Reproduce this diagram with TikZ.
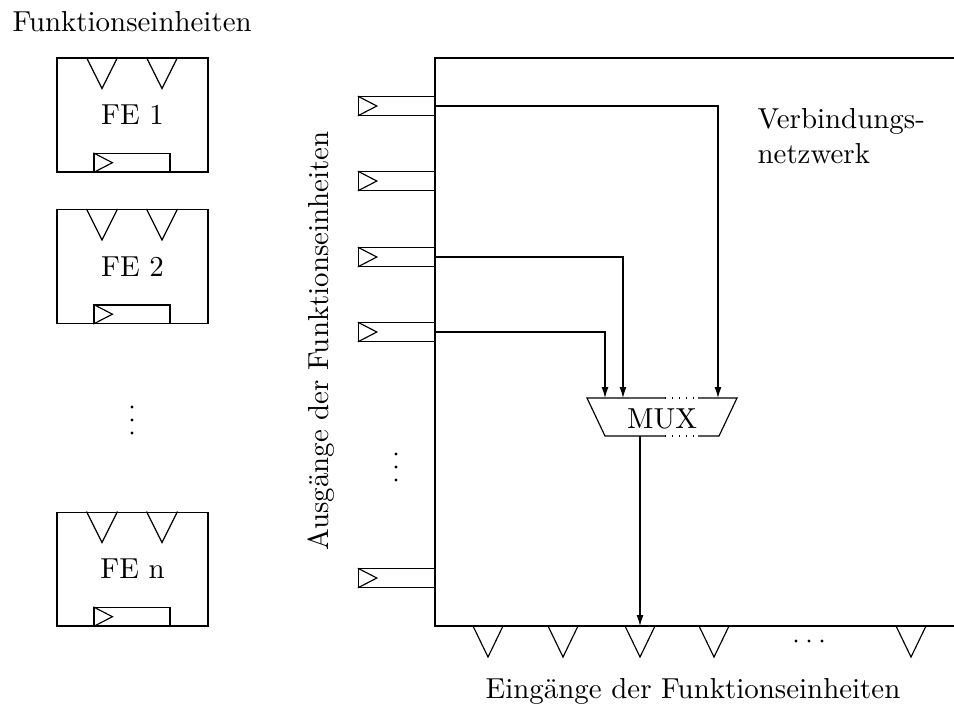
\documentclass[tikz,border=0pt]{standalone}
\usetikzlibrary{arrows.meta,calc}
\begin{document}
\begin{tikzpicture}[x=0.346pt,y=-0.346pt,
  unitbox/.style={draw, rectangle, inner sep=0pt, minimum width=52.25pt, minimum height=39.4pt},
  regbox/.style={draw, rectangle, inner sep=0pt, minimum width=26.3pt, minimum height=6.4pt},
  lbl/.style={inner sep=0pt},
  conn/.style={-{Latex[length=3.8pt,width=2.4pt]}},
  dotmark/.style={fill=black},
]
\useasboundingbox (0,0) rectangle (954,706);

% register symbol: box with a clock triangle at its left side
\newcommand\regmark[1]{%
  \draw (#1.north west) -- ($(#1.west)+(19,0)$) -- (#1.south west);}

% functional unit: two input triangles on top, output register at the bottom
\newcommand\feunit[3]{%
  \node[unitbox] (#1) at (132.5,#2) {#3};
  \draw ($(#1.north)+(-46,0)$) -- ++(15.5,31) -- ++(15.5,-31);
  \draw ($(#1.north)+(14,0)$) -- ++(15.5,31) -- ++(15.5,-31);
  \node[regbox, anchor=south west] (#1reg) at ($(#1.south west)+(37,0)$) {};
  \regmark{#1reg}}

\node[lbl, anchor=base west] (title) at (12,31) {Funktionseinheiten};

\feunit{fe1}{115}{FE 1}
\feunit{fe2}{266.5}{FE 2}
\feunit{fen}{569}{FE n}

\foreach \y in {407,420,433} \fill[dotmark] (132,\y) circle (1.6);

% interconnection network
\coordinate (nwtr) at (954,58);
\coordinate (nwtl) at (435,58);
\coordinate (nwbl) at (435,626);
\coordinate (nwbr) at (954,626);
\draw (nwtr) -- (nwtl) -- (nwbl) -- (nwbr);

\node[lbl, anchor=north west, align=left] (netlabel) at (757,108) {Verbindungs-\\netzwerk};

% outputs of the functional units
\foreach \n/\y in {1/106,2/181,3/257,4/332,5/578} {
  \node[regbox, anchor=east] (r\n) at (435,\y) {};
  \regmark{r\n}
}
\foreach \y in {454,467,480} \fill[dotmark] (396,\y) circle (1.6);

\node[lbl, rotate=90, anchor=base] (outlabel) at (328,341) {Ausgänge der Funktionseinheiten};

% multiplexer
\coordinate (mtl) at (587,398);
\coordinate (mtr) at (737,398);
\coordinate (mbl) at (605,436);
\coordinate (mbr) at (719,436);
\node[lbl] (mux) at (662,419) {MUX};
\draw (665,398) -- (mtl) -- (mbl) -- (665,436);
\draw (698,398) -- (mtr) -- (mbr) -- (698,436);
\draw[dotted] (665,398) -- (698,398);
\draw[dotted] (665,436) -- (698,436);
\coordinate (min1) at (605,398);
\coordinate (min2) at (623,398);
\coordinate (min3) at (718,398);
\coordinate (mout) at (640,436);

% inputs of the functional units
\foreach \n/\x in {1/488,2/563,3/640,4/714,5/911} {
  \coordinate (in\n) at (\x,626);
  \draw ($(in\n)+(-15,0)$) -- ++(15,31) -- ++(15,-31);
}
\foreach \x in {796,809,822} \fill[dotmark] (\x,641) circle (1.6);

\node[lbl, anchor=base] (inlabel) at (693,698) {Eingänge der Funktionseinheiten};

% connections through the network
\draw[conn] (r1.east) -| (min3);
\draw[conn] (r3.east) -| (min2);
\draw[conn] (r4.east) -| (min1);
\draw[conn] (mout) -- (in3);
\end{tikzpicture}
\end{document}
